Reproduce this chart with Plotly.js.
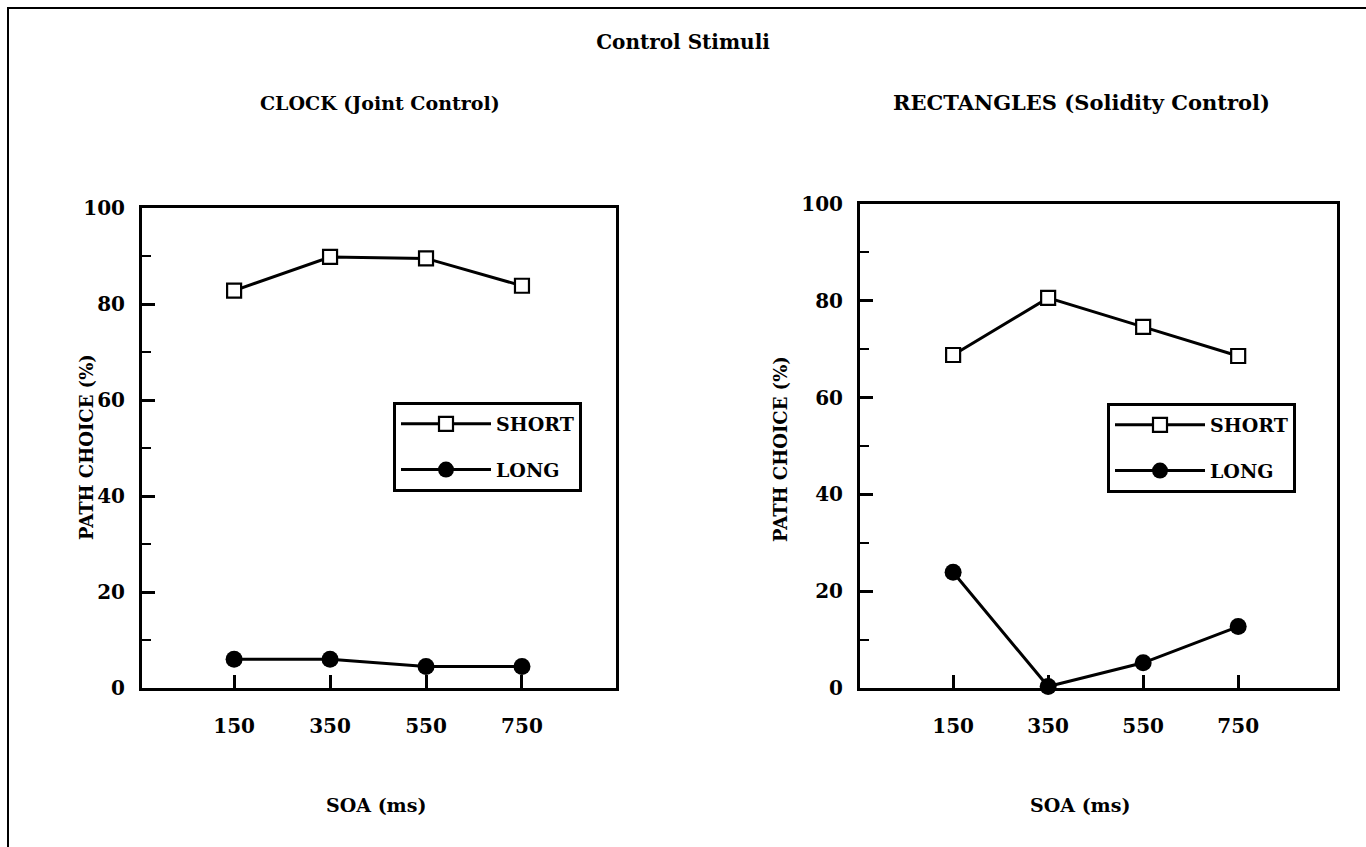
<!DOCTYPE html>
<html>
<head>
<meta charset="utf-8">
<script src="https://cdn.plot.ly/plotly-3.0.1.min.js"></script>
<style>
html,body{margin:0;padding:0;background:#fff;}
#chart{width:1366px;height:847px;}
</style>
</head>
<body>
<div id="chart"></div>
<script>
// ---- data ----
const soa = [150, 350, 550, 750];
const xTickLabels = ['150', '350', '550', '750'];
const yTickVals = [0, 20, 40, 60, 80, 100];
const clockShort = [82.8, 89.8, 89.5, 83.8];
const clockLong = [6.0, 6.0, 4.5, 4.5];
const rectShort = [68.8, 80.6, 74.6, 68.6];
const rectLong = [23.9, 0.3, 5.2, 12.7];
const seriesNames = ['SHORT', 'LONG'];

const FONT = 'DejaVu Serif';
const W = 1366, H = 847;
const px = v => v / W;
const py = v => (H - v) / H;

function shortTrace(y, xa, ya, leg, grp) {
  return {
    x: soa, y: y, xaxis: xa, yaxis: ya, legend: leg, legendgroup: grp,
    name: seriesNames[0], type: 'scatter', mode: 'lines+markers', cliponaxis: false,
    line: {color: 'black', width: 3},
    marker: {symbol: 'square', size: 14, color: 'white', line: {color: 'black', width: 2.2}}
  };
}
function longTrace(y, xa, ya, leg, grp) {
  return {
    x: soa, y: y, xaxis: xa, yaxis: ya, legend: leg, legendgroup: grp,
    name: seriesNames[1], type: 'scatter', mode: 'lines+markers', cliponaxis: false,
    line: {color: 'black', width: 3},
    marker: {symbol: 'circle', size: 17, color: 'black'}
  };
}

const data = [
  shortTrace(clockShort, 'x', 'y', 'legend', 'cs'),
  longTrace(clockLong, 'x', 'y', 'legend', 'cl'),
  shortTrace(rectShort, 'x2', 'y2', 'legend2', 'rs'),
  longTrace(rectLong, 'x2', 'y2', 'legend2', 'rl')
];

function xAxis(domain, range, anchor) {
  return {
    domain: domain, range: range, anchor: anchor,
    tickmode: 'array', tickvals: soa, ticktext: xTickLabels,
    ticks: 'inside', ticklen: 13, tickwidth: 3, tickcolor: 'black',
    ticklabelstandoff: 18,
    showline: true, linewidth: 3, linecolor: 'black', mirror: true,
    showgrid: false, zeroline: false, fixedrange: true,
    tickfont: {family: FONT, size: 20, color: 'black', weight: 'bold'}
  };
}
function yAxis(domain, anchor) {
  return {
    domain: domain, range: [0, 100], anchor: anchor,
    tickmode: 'array', tickvals: yTickVals,
    ticks: 'inside', ticklen: 13, tickwidth: 3, tickcolor: 'black',
    minor: {dtick: 10, ticks: 'inside', ticklen: 9, tickwidth: 2, tickcolor: 'black', showgrid: false},
    ticklabelstandoff: 10,
    showline: true, linewidth: 3, linecolor: 'black', mirror: true,
    showgrid: false, zeroline: false, fixedrange: true,
    tickfont: {family: FONT, size: 20, color: 'black', weight: 'bold'}
  };
}

function legendBox(x, y) {
  return {
    x: x, y: y, xanchor: 'left', yanchor: 'top', xref: 'paper', yref: 'paper',
    bgcolor: 'white', bordercolor: 'black', borderwidth: 3,
    font: {family: FONT, size: 19, color: 'black', weight: 'bold'},
    itemwidth: 90, tracegroupgap: 18, traceorder: 'grouped'
  };
}

const annFont = {family: FONT, size: 19, color: 'black', weight: 'bold'};
function ann(text, x, y, extra) {
  return Object.assign({text: text, x: px(x), y: py(y), xref: 'paper', yref: 'paper',
    xanchor: 'center', yanchor: 'middle', showarrow: false, font: annFont}, extra || {});
}
const sized = s => ({font: Object.assign({}, annFont, {size: s})});
const layout = {
  width: W, height: H,
  margin: {l: 0, r: 0, t: 0, b: 0},
  paper_bgcolor: 'white', plot_bgcolor: 'white',
  showlegend: true,
  title: {text: 'Control Stimuli', x: 0.5, xanchor: 'center', y: py(42), yanchor: 'middle',
          font: {family: FONT, size: 20, color: 'black', weight: 'bold'}},
  xaxis: xAxis([px(142), px(616)], [-42, 946], 'y'),
  yaxis: yAxis([py(688), py(208)], 'x'),
  xaxis2: xAxis([px(860), px(1337)], [-46, 958], 'y2'),
  yaxis2: yAxis([py(688), py(204)], 'x2'),
  legend: legendBox(px(393), py(402)),
  legend2: legendBox(px(1107), py(403)),
  annotations: [
    ann('CLOCK (Joint Control)', 380, 103),
    ann('RECTANGLES (Solidity Control)', 1081, 103, sized(21)),
    ann('PATH CHOICE (%)', 87, 447, Object.assign({textangle: -90}, sized(18))),
    ann('PATH CHOICE (%)', 780, 449, Object.assign({textangle: -90}, sized(18))),
    ann('SOA (ms)', 376, 805, sized(19)),
    ann('SOA (ms)', 1080, 805, sized(19))
  ],
  shapes: [
    {type: 'rect', xref: 'paper', yref: 'paper', x0: px(8), x1: 1.01, y0: -0.01, y1: py(8),
     line: {color: 'black', width: 2}, fillcolor: 'rgba(0,0,0,0)', layer: 'below'}
  ]
};

Plotly.newPlot('chart', data, layout, {staticPlot: true, displayModeBar: false});
</script>
</body>
</html>
